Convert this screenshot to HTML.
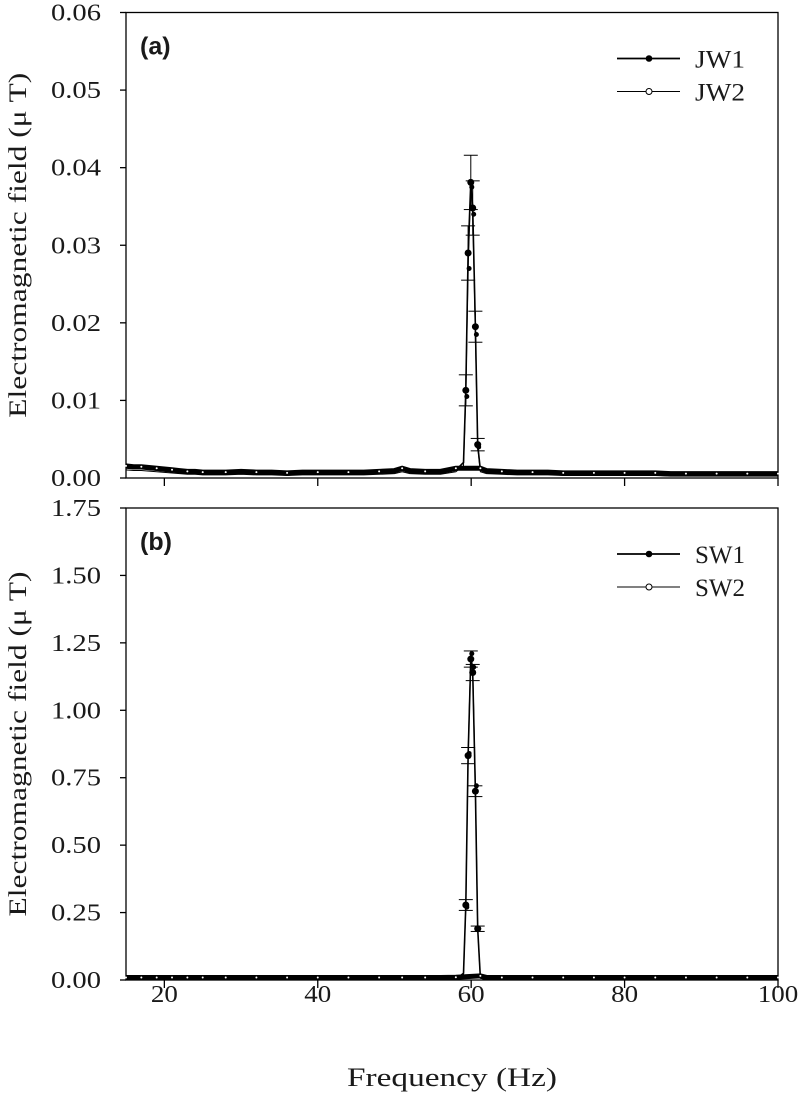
<!DOCTYPE html>
<html><head><meta charset="utf-8"><style>
body{margin:0;background:#fff}
svg{display:block}
text{font-family:"Liberation Serif",serif;fill:#1a1a1a}
</style></head><body>
<svg id="c" width="800" height="1095" xmlns="http://www.w3.org/2000/svg"></svg>
<script>
const xTicks=[20,40,60,80,100];
const aTicks=["0.00","0.01","0.02","0.03","0.04","0.05","0.06"];
const bTicks=["0.00","0.25","0.50","0.75","1.00","1.25","1.50","1.75"];
const baseFreq=[15,16,17,18,19,20,21,22,23,24,25,26,28,30,32,34,36,38,40,42,44,46,48,50,51,52,54,56,58,59];
const jw1Base=[0.0013,0.0012,0.0012,0.0011,0.0010,0.0009,0.0008,0.0007,0.0006,0.0006,0.0005,0.0005,0.0005,0.0006,0.0005,0.0005,0.0004,0.0005,0.0005,0.0005,0.0005,0.0005,0.0006,0.0007,0.0010,0.0007,0.0006,0.0006,0.0010,0.0020];
const baseFreq2=[61.2,62,64,66,68,70,72,74,76,78,80,82,84,86,88,90,92,94,96,98,100];
const jw1Tail=[0.0010,0.0007,0.0006,0.0005,0.0005,0.0005,0.0004,0.0004,0.0004,0.0004,0.0004,0.0004,0.0004,0.0003,0.0003,0.0003,0.0003,0.0003,0.0003,0.0003,0.0003];
const peakFreq=[59.3,59.6,59.95,60.2,60.55,60.85];
const jw1Peak=[0.0113,0.029,0.0381,0.0348,0.0195,0.0043];
const jw1PeakErr=[0.002,0.0035,0.0035,0.0035,0.002,0.0008];
const jw2Peak=[0.0105,0.027,0.0375,0.034,0.0185,0.004];
const sw1Base=[0.002,0.002,0.002,0.002,0.002,0.002,0.002,0.002,0.002,0.002,0.002,0.002,0.002,0.002,0.002,0.002,0.002,0.002,0.002,0.002,0.002,0.002,0.002,0.002,0.002,0.002,0.002,0.002,0.003,0.025];
const sw1Tail=[0.008,0.002,0.002,0.002,0.002,0.002,0.002,0.002,0.002,0.002,0.002,0.002,0.002,0.002,0.002,0.002,0.002,0.002,0.002,0.002,0.002];
const sw1Peak=[0.278,0.832,1.19,1.14,0.70,0.19];
const sw1PeakErr=[0.02,0.03,0.03,0.03,0.02,0.01];
const sw2Peak=[0.27,0.84,1.21,1.16,0.72,0.19];

const svg=document.getElementById('c');const NS='http://www.w3.org/2000/svg';
function el(t,a,p){const e=document.createElementNS(NS,t);for(const k in a)e.setAttribute(k,a[k]);(p||svg).appendChild(e);return e;}
const X0=126,X1=778,F0=15,F1=100;
const xs=f=>X0+(f-F0)/(F1-F0)*(X1-X0);
function panel(name,top,bot,ymax,ticks,s1,s2,leg,label){
  const g=el('g',{});
  
  
  const ys=v=>bot-v/ymax*(bot-top);
  const fr=el('rect',{x:X0,y:top,width:X1-X0,height:bot-top,fill:'none',stroke:'#000','stroke-width':1.3},g);
  
  
  ticks.forEach(t=>{const y=ys(parseFloat(t));
    el('line',{x1:X0-6,x2:X0,y1:y,y2:y,stroke:'#000','stroke-width':1.3},g);
    const tx=el('text',{x:101,y:y+8,'text-anchor':'end','font-size':24,textLength:50,lengthAdjust:'spacingAndGlyphs'},g);tx.textContent=t;
    
    });
  xTicks.forEach(t=>{const x=xs(t);el('line',{x1:x,x2:x,y1:bot,y2:bot+8,stroke:'#000','stroke-width':1.3},g);});
  const f=[...baseFreq,...peakFreq,...baseFreq2];
  const v1=[...s1.base,...s1.peak,...s1.tail];
  const v2=[...s1.base.map(v=>v*0.8),...s2,...s1.tail.map(v=>v*0.8)];
  const p2=el('polyline',{points:f.map((q,i)=>xs(q)+','+ys(v2[i])).join(' '),fill:'none',stroke:'#000','stroke-width':1},g);
  
  
  const p1=el('polyline',{points:f.map((q,i)=>xs(q)+','+ys(v1[i])).join(' '),fill:'none',stroke:'#000','stroke-width':1.6},g);
  
  
  const band=el('polyline',{points:f.filter(q=>q<59||q>61).map(q=>{const i=f.indexOf(q);return xs(q)+','+(ys(v1[i])-2);}).join(' '),fill:'none',stroke:'#000','stroke-width':5},g);
  
  
  s1.peak.forEach((v,i)=>{const x=xs(peakFreq[i]);const e=s1.err[i];
    el('line',{x1:x,x2:x,y1:ys(v+e),y2:ys(v-e),stroke:'#000','stroke-width':1},g);
    el('line',{x1:x-7,x2:x+7,y1:ys(v+e),y2:ys(v+e),stroke:'#000','stroke-width':1},g);
    el('line',{x1:x-7,x2:x+7,y1:ys(v-e),y2:ys(v-e),stroke:'#000','stroke-width':1},g);
    const c=el('circle',{cx:x,cy:ys(v),r:3.5,fill:'#000'},g);
    
    });
  s2.forEach((v,i)=>{const c=el('circle',{cx:xs(peakFreq[i])+1,cy:ys(v),r:2.5,fill:'#000'},g);
    
    });
  [...baseFreq,...baseFreq2].forEach((q,i)=>{if(i%2)return;el('circle',{cx:xs(q),cy:ys([...s1.base,...s1.tail][i])-2,r:1,fill:'#fff'},g);});
  const lb=el('text',{x:140,y:top+42,'font-size':25,'font-weight':'bold',style:'font-family:"Liberation Sans",sans-serif'},g);lb.textContent=label;
  
  
  const ly=[top+46,top+79];
  el('line',{x1:617,x2:680,y1:ly[0],y2:ly[0],stroke:'#000','stroke-width':1.8},g);
  el('circle',{cx:649,cy:ly[0],r:3.3,fill:'#000'},g);
  el('line',{x1:617,x2:680,y1:ly[1],y2:ly[1],stroke:'#000','stroke-width':1},g);
  el('circle',{cx:649,cy:ly[1],r:3,fill:'#fff',stroke:'#000','stroke-width':1},g);
  leg.forEach((t,i)=>{const tx=el('text',{x:695,y:ly[i]+9,'font-size':25,textLength:50,lengthAdjust:'spacingAndGlyphs'},g);tx.textContent=t;
    
    });
  const yt=el('text',{transform:`translate(26,${(top+bot)/2}) rotate(-90)`,'text-anchor':'middle','font-size':25,textLength:345,lengthAdjust:'spacingAndGlyphs'},g);
  yt.textContent='Electromagnetic field (μ T)';
  
  
}
panel('panel-a',12.5,478,0.06,aTicks,{base:jw1Base,peak:jw1Peak,tail:jw1Tail,err:jw1PeakErr},jw2Peak,['JW1','JW2'],'(a)');
panel('panel-b',508,980,1.75,bTicks,{base:sw1Base,peak:sw1Peak,tail:sw1Tail,err:sw1PeakErr},sw2Peak,['SW1','SW2'],'(b)');
xTicks.forEach(t=>{const tx=el('text',{x:xs(t),y:1002,'text-anchor':'middle','font-size':24,textLength:String(t).length*13.5,lengthAdjust:'spacingAndGlyphs'});tx.textContent=t;
  
  });
const xt=el('text',{x:452,y:1086,'text-anchor':'middle','font-size':26,textLength:210,lengthAdjust:'spacingAndGlyphs'});xt.textContent='Frequency (Hz)';


</script>
</body></html>
